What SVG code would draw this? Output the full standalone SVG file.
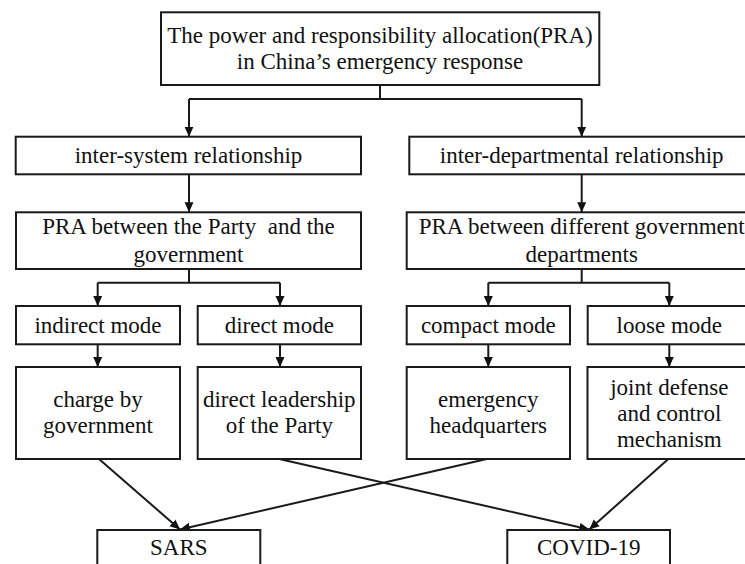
<svg xmlns="http://www.w3.org/2000/svg" width="745" height="564" viewBox="0 0 745 564">
<defs>
<marker id="ah" markerUnits="userSpaceOnUse" markerWidth="11" markerHeight="10" refX="10" refY="5" orient="auto">
<path d="M0,0.5 L10,5 L0,9.5 z" fill="#111"/>
</marker>
<style>
.box{fill:#fff;stroke:#1a1a1a;stroke-width:2}
.t{font-family:'Times New Roman',Tinos,'Liberation Serif','DejaVu Serif',serif;font-size:23px;fill:#111;text-anchor:middle;white-space:pre}
.c{fill:none;stroke:#1a1a1a;stroke-width:2}
.a{marker-end:url(#ah)}
</style>
</defs>
<rect width="745" height="564" fill="#fff"/>
<g id="connectors">
<path class="c" d="M380,85 V99 M189,99 H581.7"/>
<path class="c a" d="M189,99 V136.7"/>
<path class="c a" d="M581.7,99 V136.7"/>
<path class="c a" d="M189,174.3 V212.3"/>
<path class="c a" d="M581.7,174.3 V212.3"/>
<path class="c" d="M189,269 V282.7 M97.7,282.7 H280"/>
<path class="c a" d="M97.7,282.7 V306"/>
<path class="c a" d="M280,282.7 V306"/>
<path class="c" d="M581.7,269 V282.7 M488.3,282.7 H669.3"/>
<path class="c a" d="M488.3,282.7 V306"/>
<path class="c a" d="M669.3,282.7 V306"/>
<path class="c a" d="M97.7,344.3 V367"/>
<path class="c a" d="M280,344.3 V367"/>
<path class="c a" d="M488.3,344.3 V367"/>
<path class="c a" d="M669.3,344.3 V367"/>
<path class="c a" d="M99,459 L180,529.5"/>
<path class="c a" d="M279.3,459 L589.3,529.5"/>
<path class="c a" d="M486.7,459 L180,529.5"/>
<path class="c a" d="M668.3,459 L589.3,529.5"/>
</g>
<g id="root">
<rect class="box" x="161" y="12.3" width="438.3" height="72.7"/>
<text class="t" x="380" y="43">The power and responsibility allocation(PRA)</text>
<text class="t" x="380" y="68.5">in China’s emergency response</text>
</g>
<g id="inter-system">
<rect class="box" x="15.7" y="136.7" width="345.3" height="37.6"/>
<text class="t" x="188.5" y="163.3">inter-system relationship</text>
</g>
<g id="inter-departmental">
<rect class="box" x="409.3" y="136.7" width="345" height="37.6"/>
<text class="t" x="581.7" y="163.3">inter-departmental relationship</text>
</g>
<g id="pra-party">
<rect class="box" x="16" y="212.3" width="345" height="56.7"/>
<text class="t" x="188.5" y="234">PRA between the Party  and the</text>
<text class="t" x="188.5" y="261.7">government</text>
</g>
<g id="pra-departments">
<rect class="box" x="406.7" y="212.3" width="350" height="56.7"/>
<text class="t" x="581.7" y="234">PRA between different government</text>
<text class="t" x="581.7" y="261.7">departments</text>
</g>
<g id="indirect-mode">
<rect class="box" x="16" y="306" width="164" height="38.3"/>
<text class="t" x="98" y="332.7">indirect mode</text>
</g>
<g id="direct-mode">
<rect class="box" x="197.7" y="306" width="163.3" height="38.3"/>
<text class="t" x="279.3" y="332.7">direct mode</text>
</g>
<g id="compact-mode">
<rect class="box" x="406.7" y="306" width="163.3" height="38.3"/>
<text class="t" x="488.3" y="332.7">compact mode</text>
</g>
<g id="loose-mode">
<rect class="box" x="587.7" y="306" width="163.3" height="38.3"/>
<text class="t" x="669.3" y="332.7">loose mode</text>
</g>
<g id="charge-by-government">
<rect class="box" x="16" y="367" width="164" height="92"/>
<text class="t" x="98" y="406.5">charge by</text>
<text class="t" x="98" y="433.3">government</text>
</g>
<g id="direct-leadership">
<rect class="box" x="197.7" y="367" width="163.3" height="92"/>
<text class="t" x="279.3" y="406.5">direct leadership</text>
<text class="t" x="279.3" y="433.3">of the Party</text>
</g>
<g id="emergency-headquarters">
<rect class="box" x="406.7" y="367" width="163.3" height="92"/>
<text class="t" x="488.3" y="406.5">emergency</text>
<text class="t" x="488.3" y="433.3">headquarters</text>
</g>
<g id="joint-defense">
<rect class="box" x="587.5" y="367" width="163.5" height="92"/>
<text class="t" x="669.3" y="395">joint defense</text>
<text class="t" x="669.3" y="420.7">and control</text>
<text class="t" x="669.3" y="447.3">mechanism</text>
</g>
<g id="sars">
<rect class="box" x="97.3" y="530" width="163" height="40"/>
<text class="t" x="178.8" y="555">SARS</text>
</g>
<g id="covid-19">
<rect class="box" x="507.3" y="530" width="162.7" height="40"/>
<text class="t" x="588.7" y="555">COVID-19</text>
</g>
</svg>
